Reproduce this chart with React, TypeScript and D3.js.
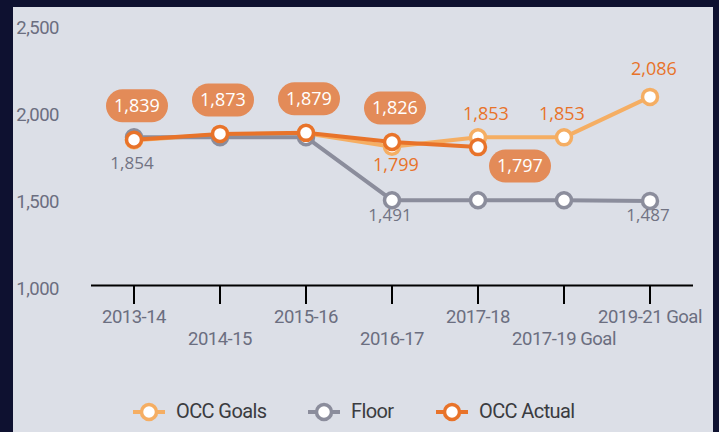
import React from "react";
import * as d3 from "d3";

const categories = ["2013-14", "2014-15", "2015-16", "2016-17", "2017-18", "2017-19 Goal", "2019-21 Goal"];
const goals: (number | null)[] = [1836, 1870, 1876, 1799, 1853, 1853, 2086];
const floor: (number | null)[] = [1854, 1854, 1854, 1491, 1491, 1491, 1487];
const actual: (number | null)[] = [1839, 1873, 1879, 1826, 1797, null, null];
const yTicks = [1000, 1500, 2000, 2500];

const goalLabels = [null, null, null, "below", "above", "above", "above"];
const floorLabels = ["below", null, null, "below", null, null, "below"];
const actualLabels = ["above", "above", "above", "above", "belowRight", null, null];

const W = 719;
const H = 432;
const C_GOAL = "#f5ae63";
const C_FLOOR = "#8b8d9c";
const C_ACT = "#e8732a";
const C_BADGE = "#e38b58";

export default function App() {
  const x = d3.scaleBand<string>().domain(categories).range([91, 693]);
  const cx = (c: string) => (x(c) as number) + x.bandwidth() / 2;
  const y = d3.scaleLinear().domain([1000, 2500]).range([285.5, 25]);
  const fmt = d3.format(",");

  const line = d3
    .line<number | null>()
    .defined((d) => d != null)
    .x((_, i) => cx(categories[i]))
    .y((d) => y(d as number));

  const series = [
    { name: "OCC Goals", data: goals, color: C_GOAL },
    { name: "Floor", data: floor, color: C_FLOOR },
    { name: "OCC Actual", data: actual, color: C_ACT },
  ];

  const legendItems = [
    { name: "OCC Goals", color: C_GOAL, x: 149 },
    { name: "Floor", color: C_FLOOR, x: 324 },
    { name: "OCC Actual", color: C_ACT, x: 452 },
  ];

  return (
    <svg width={W} height={H} style={{ position: "absolute", left: 0, top: 0 }}>
      <rect x={0} y={0} width={W} height={H} fill="#0e1130" />
      <rect x={13} y={7} width={700} height={H} fill="#dcdfe7" />

      {/* y labels */}
      {yTicks.map((t) => (
        <text
          key={t}
          x={59}
          y={y(t) + 4.5}
          textAnchor="end"
          dominantBaseline="middle"
          fontFamily="Roboto"
          fontSize={18.5}
          letterSpacing={-0.5}
          fill="#6b6e80"
        >
          {fmt(t)}
        </text>
      ))}

      {/* x axis */}
      <line x1={91} x2={693} y1={y(1000)} y2={y(1000)} stroke="#000" strokeWidth={2} />
      {categories.map((c, i) => (
        <g key={c}>
          <line x1={cx(c)} x2={cx(c)} y1={y(1000)} y2={304} stroke="#000" strokeWidth={2} />
          <text
            x={cx(c)}
            y={i % 2 === 0 ? 323 : 345}
            textAnchor="middle"
            fontFamily="Roboto"
            fontSize={18.5}
            letterSpacing={-0.5}
            fill="#6b6e80"
          >
            {c}
          </text>
        </g>
      ))}

      {/* lines */}
      {series.map((s) => (
        <g key={s.name}>
          <path d={line(s.data) || ""} fill="none" stroke={s.color} strokeWidth={4} strokeLinejoin="round" />
          {s.data.map((d, i) =>
            d == null ? null : (
              <circle key={i} cx={cx(categories[i])} cy={y(d)} r={7.5} fill="#fff" stroke={s.color} strokeWidth={3.5} />
            )
          )}
        </g>
      ))}

      {/* goal labels */}
      {goals.map((d, i) => {
        const pos = goalLabels[i];
        if (d == null || !pos) return null;
        const px = cx(categories[i]);
        const py = y(d);
        return (
          <text
            key={"g" + i}
            x={px + (i === 4 ? 8 : i === 5 ? -2 : 4)}
            y={pos === "below" ? py + 19 : i === 6 ? py - 27 : py - 22}
            textAnchor="middle"
            dominantBaseline="middle"
            fontFamily="Open Sans"
            fontSize={18}
            fill={C_ACT}
          >
            {fmt(d)}
          </text>
        );
      })}

      {/* floor labels */}
      {floor.map((d, i) => {
        const pos = floorLabels[i];
        if (d == null || !pos) return null;
        const px = cx(categories[i]);
        const py = y(d);
        return (
          <text
            key={"f" + i}
            x={px - 2}
            y={py + (i === 0 ? 27 : 16)}
            textAnchor="middle"
            dominantBaseline="middle"
            fontFamily="Open Sans"
            fontSize={17}
            fill="#717383"
          >
            {fmt(d)}
          </text>
        );
      })}

      {/* actual badges */}
      {actual.map((d, i) => {
        const pos = actualLabels[i];
        if (d == null || !pos) return null;
        const px = cx(categories[i]);
        const py = y(d);
        const bx = pos === "belowRight" ? px + 42 : px + 3;
        const by = pos === "belowRight" ? py + 19 : py - 34;
        return (
          <g key={"a" + i}>
            <rect x={bx - 31} y={by - 16.5} width={62} height={33} rx={16.5} fill={C_BADGE} />
            <text
              x={bx}
              y={by + 1}
              textAnchor="middle"
              dominantBaseline="middle"
              fontFamily="Open Sans"
              fontSize={18}
              fill="#fff"
            >
              {fmt(d)}
            </text>
          </g>
        );
      })}

      {/* legend */}
      {legendItems.map((l) => (
        <g key={l.name}>
          <line x1={l.x - 16} x2={l.x + 16} y1={412} y2={412} stroke={l.color} strokeWidth={4} />
          <circle cx={l.x} cy={412} r={7.5} fill="#fff" stroke={l.color} strokeWidth={3.5} />
          <text
            x={l.x + 27}
            y={413}
            dominantBaseline="middle"
            fontFamily="Roboto"
            fontSize={20}
            letterSpacing={-0.6}
            fill="#3a3b40"
          >
            {l.name}
          </text>
        </g>
      ))}
    </svg>
  );
}
